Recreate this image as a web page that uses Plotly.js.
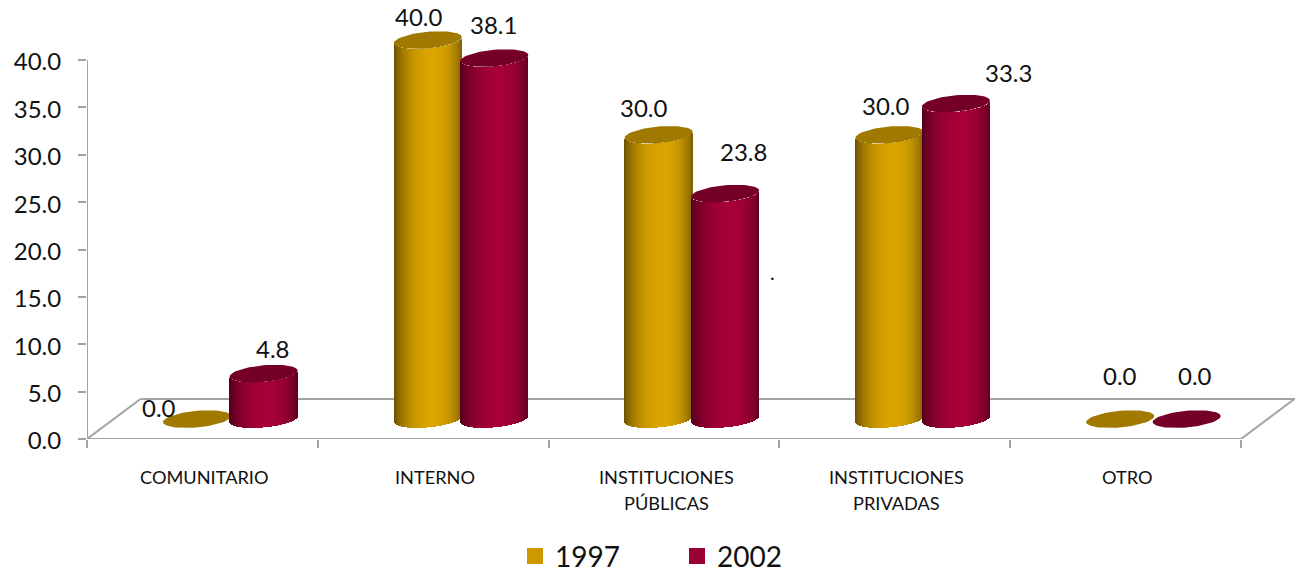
<!DOCTYPE html>
<html>
<head>
<meta charset="utf-8">
<script src="https://cdn.plot.ly/plotly-3.0.1.min.js"></script>
<style>html,body{margin:0;padding:0;background:#fff}#chart{width:1295px;height:574px}
.trace.bars .point path{shape-rendering:crispEdges}</style>
</head>
<body>
<div id="chart"></div>
<script>
// ---- data ----
var categories = ['COMUNITARIO', 'INTERNO', 'INSTITUCIONES<br>PÚBLICAS', 'INSTITUCIONES<br>PRIVADAS', 'OTRO'];
var values1997 = [0.0, 40.0, 30.0, 30.0, 0.0];
var values2002 = [4.8, 38.1, 23.8, 33.3, 0.0];
var yTicks = [0, 5, 10, 15, 20, 25, 30, 35, 40];
var seriesNames = ['1997', '2002'];

// ---- placement of the hand-moved value labels, in px from each cylinder's cap ----
var labelDx1997 = [-38, -9, -15, -3, 0];
var labelDy1997 = [12, 24, 27.5, 29.5, 44];
var labelDx2002 = [9.5, -1, 18, 53, 8];
var labelDy2002 = [25, 34, 42, 31, 44];

// ---- geometry ----
var W = 1295, H = 574, L = 87, B = 135;
var pxPerCat = 230.8, pxPerUnit = 9.475;
var plotW = W - L, plotH = H - B;
var xMax = plotW / pxPerCat, yMax = plotH / pxPerUnit;
var depthX = 53.5 / pxPerCat, depthY = 40 / pxPerUnit;   // floor depth
var floorLift = 2.1;                                      // cylinders stand mid-floor
var halfW = 34 / pxPerCat;                                // cylinder half width
var capB = 8.3 / pxPerUnit, capShear = 3 / pxPerUnit;     // ellipse half height and tilt
var offset1997 = -0.0234 + 0.5, offset2002 = 0.2647 + 0.5;
var stripCount = 68;
var grey = '#a3a3a3';

function shade(base, t) {
  var peak = 0.15;
  var u = t < peak ? (t - peak) / (1 + peak) : (t - peak) / (1 - peak);
  var edge = t < peak ? 0.46 : 0.56;
  var f = edge + (1 - edge) * Math.pow(1 - u * u, 0.75);
  return 'rgb(' + base.map(function (c) { return Math.round(c * f); }).join(',') + ')';
}

function cylinderBars(values, offs, base, xa, ya) {
  var xs = [], ys = [], bases = [], cols = [];
  values.forEach(function (v, i) {
    var cx = i + offs;
    for (var k = 0; k < stripCount; k++) {
      var t = -1 + (2 * k + 1) / stripCount;
      xs.push(cx + t * halfW);
      ys.push(v);
      bases.push(floorLift + capShear * t - capB * Math.sqrt(1 - t * t));
      cols.push(shade(base, t));
    }
  });
  return {
    type: 'bar', x: xs, y: ys, base: bases, width: 1.4 / pxPerCat, xaxis: xa, yaxis: ya,
    marker: { color: cols, line: { width: 0 } }, showlegend: false, hoverinfo: 'skip'
  };
}

function cylinderCaps(values, offs, color, xa, ya) {
  var traces = [];
  values.forEach(function (v, i) {
    var cx = i + offs, xs = [], ys = [];
    for (var a = 0; a <= 72; a++) {
      var th = a / 72 * 2 * Math.PI;
      xs.push(cx + halfW * Math.cos(th));
      ys.push(v + floorLift + capShear * Math.cos(th) + capB * Math.sin(th));
    }
    traces.push({
      type: 'scatter', mode: 'lines', x: xs, y: ys, fill: 'toself', fillcolor: color,
      line: { width: 0, color: color }, xaxis: xa, yaxis: ya, showlegend: false, hoverinfo: 'skip'
    });
  });
  return traces;
}

var base1997 = [219, 165, 0], base2002 = [166, 0, 55];
var traces = []
  .concat([cylinderBars(values1997, offset1997, base1997, 'x', 'y')])
  .concat(cylinderCaps(values1997, offset1997, '#a07a00', 'x', 'y'))
  .concat([cylinderBars(values2002, offset2002, base2002, 'x2', 'y2')])
  .concat(cylinderCaps(values2002, offset2002, '#750027', 'x2', 'y2'));

// legend keys
traces.push({ type: 'scatter', mode: 'markers', x: [null], y: [null], name: seriesNames[0],
  marker: { symbol: 'square', size: 19, color: '#cc9900' }, hoverinfo: 'skip' });
traces.push({ type: 'scatter', mode: 'markers', x: [null], y: [null], name: seriesNames[1],
  marker: { symbol: 'square', size: 19, color: '#990033' }, hoverinfo: 'skip' });

// ---- text ----
var font = 'Lato, "Open Sans", sans-serif';
var annotations = [];
function addLabels(values, offs, dx, dy) {
  values.forEach(function (v, i) {
    annotations.push({
      xref: 'x', yref: 'y', x: i + offs, y: v + floorLift, xshift: dx[i], yshift: dy[i],
      text: v.toFixed(1), showarrow: false, xanchor: 'center', yanchor: 'middle',
      font: { family: font, size: 24, color: '#111' }
    });
  });
}
addLabels(values1997, offset1997, labelDx1997, labelDy1997);
addLabels(values2002, offset2002, labelDx2002, labelDy2002);
categories.forEach(function (c, i) {
  c.split('<br>').forEach(function (line, n) {
    annotations.push({
      xref: 'x', yref: 'y', x: i + 0.5, y: 0, xshift: 2, yshift: -38 - n * 26,
      text: line, showarrow: false, xanchor: 'center', yanchor: 'middle',
      font: { family: font, size: 18.2, color: '#111' }
    });
  });
});
annotations.push({ xref: 'x', yref: 'y', x: 2.972, y: 17.6, text: '.', showarrow: false,
  font: { family: font, size: 20, color: '#111' } });

// ---- floor and axis lines, behind the cylinders ----
var shapes = [];
function seg(x0, y0, x1, y1) {
  shapes.push({ type: 'line', xref: 'x', yref: 'y', layer: 'below', x0: x0, y0: y0, x1: x1, y1: y1,
    line: { color: grey, width: 2 } });
}
seg(0, 0, 0, 40);
seg(0, 0, categories.length, 0);
seg(0, 0, depthX, depthY);
seg(depthX, depthY, xMax, depthY);
seg(categories.length, 0, categories.length + depthX, depthY);

var hiddenAxis = { showgrid: false, zeroline: false, showline: false, showticklabels: false, ticks: '', fixedrange: true };
var layout = {
  width: W, height: H, paper_bgcolor: '#fff', plot_bgcolor: 'rgba(0,0,0,0)',
  margin: { l: L, r: 0, t: 0, b: B, pad: 0, autoexpand: false },
  barmode: 'overlay', hovermode: false, dragmode: false,
  font: { family: font, color: '#111' },
  xaxis: { range: [0, xMax], tickmode: 'array', tickvals: [0, 1, 2, 3, 4, 5], ticktext: ['', '', '', '', '', ''],
    ticks: 'outside', ticklen: 8, tickwidth: 2, tickcolor: grey, showgrid: false, zeroline: false, showline: false, fixedrange: true },
  yaxis: { range: [0, yMax], tickmode: 'array', tickvals: yTicks, tickformat: '.1f',
    ticks: 'outside', ticklen: 8, tickwidth: 2, tickcolor: grey, ticklabelstandoff: 12, ticklabelshift: 2,
    showgrid: false, zeroline: false, showline: false, fixedrange: true,
    tickfont: { family: font, size: 24, color: '#111' } },
  xaxis2: Object.assign({ overlaying: 'x', range: [0, xMax] }, hiddenAxis),
  yaxis2: Object.assign({ overlaying: 'y', range: [0, yMax] }, hiddenAxis),
  legend: { orientation: 'h', x: (515 - L) / plotW, xanchor: 'left', y: -0.21, yanchor: 'top',
    entrywidth: 117, entrywidthmode: 'pixels', font: { family: font, size: 28, color: '#111' },
    bgcolor: 'rgba(0,0,0,0)', borderwidth: 0, traceorder: 'normal', itemclick: false, itemdoubleclick: false },
  annotations: annotations, shapes: shapes
};
Plotly.newPlot('chart', traces, layout, { displayModeBar: false, staticPlot: true });
</script>
</body>
</html>
